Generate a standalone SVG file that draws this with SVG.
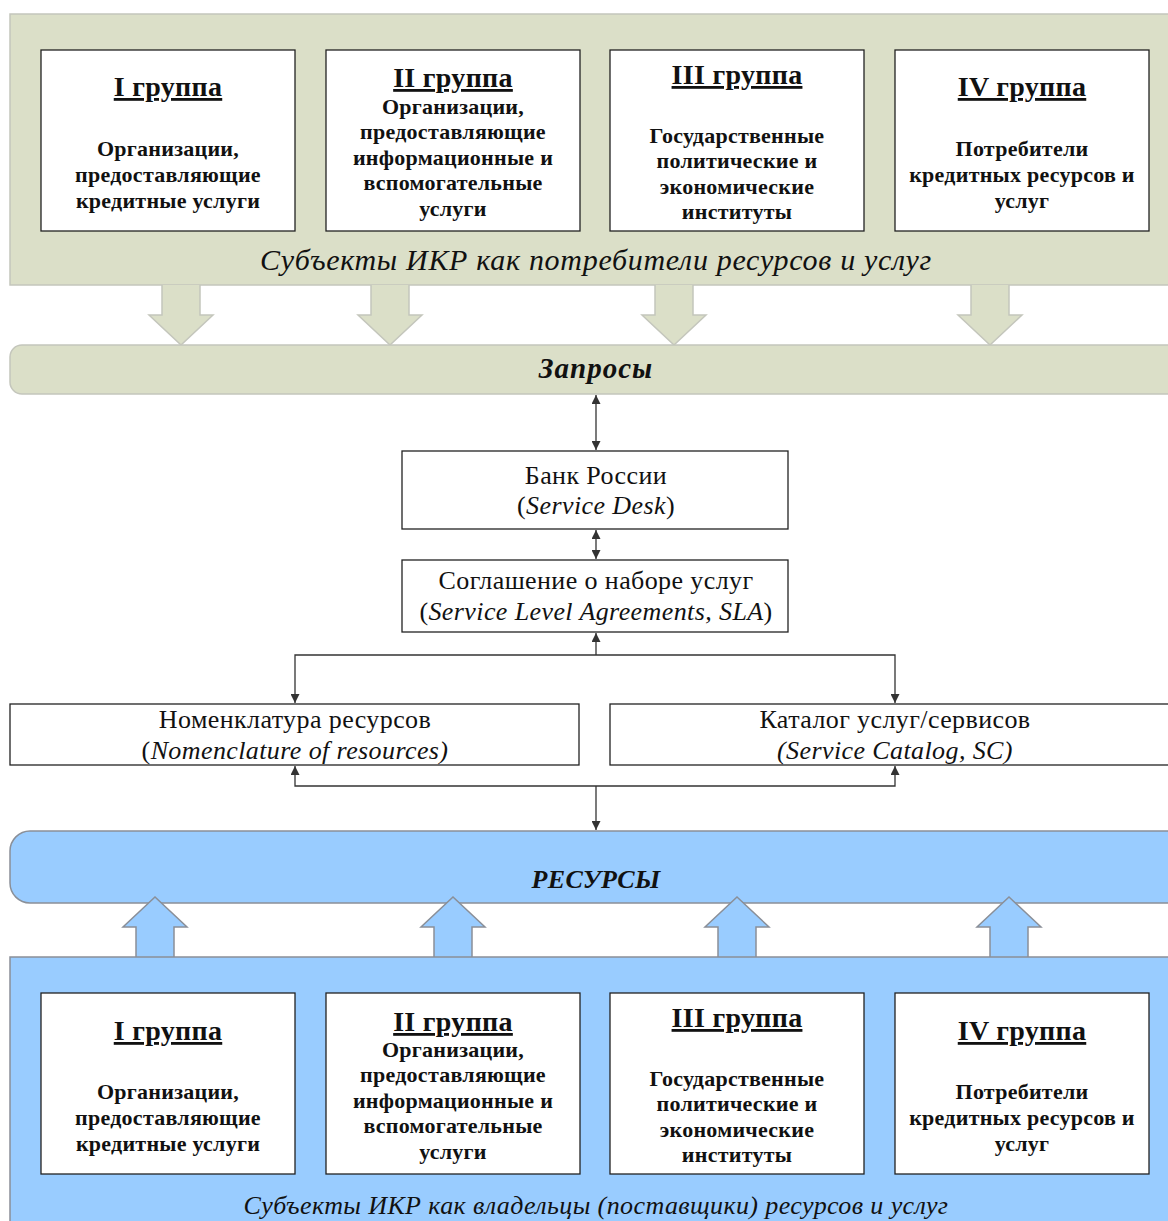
<svg xmlns="http://www.w3.org/2000/svg" width="1168" height="1221" viewBox="0 0 1168 1221">
<style>
.olive{fill:#dbdfc8;stroke:#c4c6bc;stroke-width:1.5}
.blue{fill:#99ccff;stroke:#8a8f98;stroke-width:1.5}
.box{fill:#fff;stroke:#222;stroke-width:1.3}
.h{font-family:"Liberation Serif","Times New Roman",serif;font-weight:bold;font-size:28px;text-decoration:underline;text-anchor:middle;fill:#111;letter-spacing:0.3px}
.b{font-family:"Liberation Serif","Times New Roman",serif;font-weight:bold;font-size:22px;text-anchor:middle;fill:#111;letter-spacing:0.25px}
.cap{font-family:"Liberation Serif","Times New Roman",serif;font-style:italic;font-size:30px;text-anchor:middle;fill:#111;letter-spacing:0.7px}
.band{font-family:"Liberation Serif","Times New Roman",serif;font-style:italic;font-weight:bold;font-size:29px;text-anchor:middle;fill:#111;letter-spacing:1px}
.t{font-family:"Liberation Serif","Times New Roman",serif;font-size:26px;text-anchor:middle;fill:#111;letter-spacing:0.4px}
.i{font-style:italic}
.ln{fill:none;stroke:#333;stroke-width:1.3}
</style>
<defs>
<marker id="ah" viewBox="0 0 10 10" refX="10" refY="5" markerWidth="9" markerHeight="9" markerUnits="userSpaceOnUse" orient="auto-start-reverse"><path d="M0,0 L10,5 L0,10 z" fill="#333"/></marker>
</defs>

<g id="consumers-panel">
<rect class="olive" x="10" y="14" width="1170" height="271"/>
<text class="cap" x="596" y="270">Субъекты ИКР как потребители ресурсов и услуг</text>
</g>
<g id="top-arrows">
<path class="olive" d="M162,285 V315 H149 L181,345 L213,315 H200 V285"/>
<path class="olive" d="M371,285 V315 H358 L390,345 L422,315 H409 V285"/>
<path class="olive" d="M655,285 V315 H642 L674,345 L706,315 H693 V285"/>
<path class="olive" d="M971,285 V315 H958 L990,345 L1022,315 H1009 V285"/>
</g>
<g id="top-g1">
<rect class="box" x="41" y="50" width="254" height="181"/>
<text class="h" x="168" y="96">I группа</text>
<text class="b" x="168" y="156">Организации,</text>
<text class="b" x="168" y="182">предоставляющие</text>
<text class="b" x="168" y="208">кредитные услуги</text>
</g>
<g id="top-g2">
<rect class="box" x="326" y="50" width="254" height="181"/>
<text class="h" x="453" y="87">II группа</text>
<text class="b" x="453" y="114">Организации,</text>
<text class="b" x="453" y="139">предоставляющие</text>
<text class="b" x="453" y="165">информационные и</text>
<text class="b" x="453" y="190">вспомогательные</text>
<text class="b" x="453" y="216">услуги</text>
</g>
<g id="top-g3">
<rect class="box" x="610" y="50" width="254" height="181"/>
<text class="h" x="737" y="84">III группа</text>
<text class="b" x="737" y="143">Государственные</text>
<text class="b" x="737" y="168">политические и</text>
<text class="b" x="737" y="194">экономические</text>
<text class="b" x="737" y="219">институты</text>
</g>
<g id="top-g4">
<rect class="box" x="895" y="50" width="254" height="181"/>
<text class="h" x="1022" y="96">IV группа</text>
<text class="b" x="1022" y="156">Потребители</text>
<text class="b" x="1022" y="182">кредитных ресурсов и</text>
<text class="b" x="1022" y="208">услуг</text>
</g>

<g id="requests">
<rect class="olive" x="10" y="345" width="1180" height="49" rx="12"/>
<text class="band" x="596" y="378">Запросы</text>
</g>

<g id="bank">
<rect class="box" x="402" y="451" width="386" height="78"/>
<text class="t" x="596" y="484">Банк России</text>
<text class="t" x="596" y="514">(<tspan class="i">Service Desk</tspan>)</text>
</g>
<g id="sla">
<rect class="box" x="402" y="560" width="386" height="72"/>
<text class="t" x="596" y="589">Соглашение о наборе услуг</text>
<text class="t" x="596" y="620">(<tspan class="i">Service Level Agreements, SLA</tspan>)</text>
</g>
<g id="nomenclature">
<rect class="box" x="10" y="704" width="569" height="61"/>
<text class="t" x="295" y="728">Номенклатура ресурсов</text>
<text class="t" x="295" y="759">(<tspan class="i">Nomenclature of resources)</tspan></text>
</g>
<g id="catalog">
<rect class="box" x="610" y="704" width="580" height="61"/>
<text class="t" x="895" y="728">Каталог услуг/сервисов</text>
<text class="t i" x="895" y="759">(Service Catalog, SC)</text>
</g>

<g id="connectors">
<line class="ln" x1="596" y1="395" x2="596" y2="450" marker-start="url(#ah)" marker-end="url(#ah)"/>
<line class="ln" x1="596" y1="530" x2="596" y2="559" marker-start="url(#ah)" marker-end="url(#ah)"/>
<line class="ln" x1="596" y1="655" x2="596" y2="633" marker-end="url(#ah)"/>
<polyline class="ln" points="295,703 295,655 895,655 895,703" marker-start="url(#ah)" marker-end="url(#ah)"/>
<polyline class="ln" points="295,766 295,786 895,786 895,766" marker-start="url(#ah)" marker-end="url(#ah)"/>
<line class="ln" x1="596" y1="786" x2="596" y2="830" marker-end="url(#ah)"/>
</g>

<g id="resources">
<rect class="blue" x="10" y="831" width="1180" height="72" rx="20"/>
<text class="band" x="596" y="888" style="font-size:26px;letter-spacing:0.3px">РЕСУРСЫ</text>
</g>
<g id="bottom-arrows">
<path class="blue" d="M136,957 V927 H123 L155,897 L187,927 H174 V957"/>
<path class="blue" d="M434,957 V927 H421 L453,897 L485,927 H472 V957"/>
<path class="blue" d="M718,957 V927 H705 L737,897 L769,927 H756 V957"/>
<path class="blue" d="M990,957 V927 H977 L1009,897 L1041,927 H1028 V957"/>
</g>
<g id="owners-panel">
<rect class="blue" x="10" y="957" width="1180" height="280"/>
<text class="cap" x="596" y="1214" style="font-size:26px;letter-spacing:0.4px">Субъекты ИКР как владельцы (поставщики) ресурсов и услуг</text>
</g>
<g id="bot-g1">
<rect class="box" x="41" y="993" width="254" height="181"/>
<text class="h" x="168" y="1040">I группа</text>
<text class="b" x="168" y="1099">Организации,</text>
<text class="b" x="168" y="1125">предоставляющие</text>
<text class="b" x="168" y="1151">кредитные услуги</text>
</g>
<g id="bot-g2">
<rect class="box" x="326" y="993" width="254" height="181"/>
<text class="h" x="453" y="1031">II группа</text>
<text class="b" x="453" y="1057">Организации,</text>
<text class="b" x="453" y="1082">предоставляющие</text>
<text class="b" x="453" y="1108">информационные и</text>
<text class="b" x="453" y="1133">вспомогательные</text>
<text class="b" x="453" y="1159">услуги</text>
</g>
<g id="bot-g3">
<rect class="box" x="610" y="993" width="254" height="181"/>
<text class="h" x="737" y="1027">III группа</text>
<text class="b" x="737" y="1086">Государственные</text>
<text class="b" x="737" y="1111">политические и</text>
<text class="b" x="737" y="1137">экономические</text>
<text class="b" x="737" y="1162">институты</text>
</g>
<g id="bot-g4">
<rect class="box" x="895" y="993" width="254" height="181"/>
<text class="h" x="1022" y="1040">IV группа</text>
<text class="b" x="1022" y="1099">Потребители</text>
<text class="b" x="1022" y="1125">кредитных ресурсов и</text>
<text class="b" x="1022" y="1151">услуг</text>
</g>
</svg>
